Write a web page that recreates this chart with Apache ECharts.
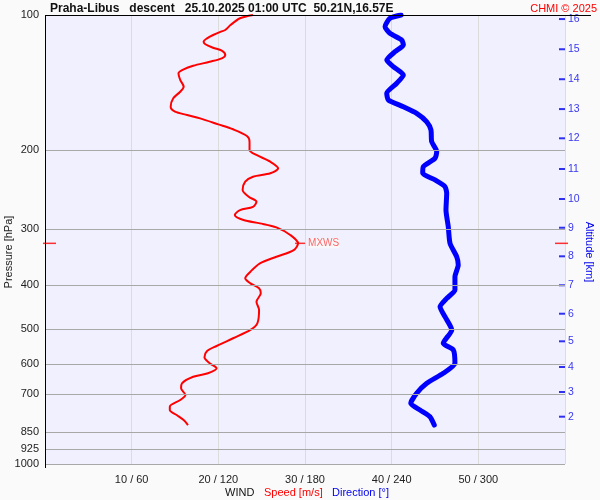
<!DOCTYPE html>
<html>
<head>
<meta charset="utf-8">
<script src="https://cdn.jsdelivr.net/npm/echarts@6/dist/echarts.min.js"></script>
<style>
  html, body { margin: 0; background: #fafafa; }
  #chart { width: 600px; height: 500px; }
</style>
</head>
<body>
<div id="chart"></div>
<script>
// pressure levels [hPa] shown on the left axis
const pressureTicks = [100, 200, 300, 400, 500, 600, 700, 850, 925, 1000];

// wind speed profile: pressure [hPa] / speed [m/s]
const speedP = [100, 101.7, 105.3, 108.0, 108.9, 110.8, 112.7, 114.7, 116.2, 118.3, 120.1, 122.8, 124.9, 127.1, 129.7,
  132.1, 134.8, 139.5, 144.4, 148.2, 153.3, 160.1, 164.2, 167.0, 169.9, 175.2, 179.7, 186.0, 191.5, 199.8,
  205.0, 212.2, 219.5, 225.2, 229.2, 235.1, 245.4, 254.0, 260.6, 267.4, 271.9, 278.9, 286.2, 291.1, 297.1,
  309.0, 322.5, 333.8, 345.4, 357.3, 373.0, 385.9, 395.9, 406.2, 416.8, 435.1, 453.9, 486.0, 502.9, 524.8,
  546.0, 560.2, 578.6, 596.6, 612.2, 628.1, 639.2, 661.2, 678.3, 702.0, 720.3, 745.4, 758.1, 777.9, 798.1, 818.9];
const speedV = [24.0, 22.5, 21.4, 20.8, 20.3, 19.4, 18.7, 18.3, 18.5, 19.4, 20.4, 20.8, 20.4, 19.0, 17.1,
  16.0, 15.4, 15.6, 16.0, 15.6, 14.8, 14.5, 15.0, 16.4, 17.9, 20.0, 21.7, 23.3, 23.6, 23.6,
  24.4, 26.0, 26.9, 26.0, 24.0, 23.1, 22.8, 23.5, 24.4, 24.0, 22.5, 21.9, 22.9, 24.8, 26.7,
  28.3, 29.2, 28.7, 26.7, 24.8, 23.7, 23.1, 23.7, 24.7, 24.9, 24.4, 24.7, 24.5, 23.7, 21.7,
  19.8, 18.7, 18.4, 19.0, 19.8, 18.8, 17.1, 15.8, 15.7, 16.2, 15.6, 14.4, 14.4, 15.2, 16.0, 16.5];

// wind direction profile: pressure [hPa] / direction [deg]
const dirP = [100, 101.7, 106.2, 109.8, 113.7, 116.6, 120.7, 126.0, 130.3, 136.0, 141.9, 149.4, 154.6, 160.1, 165.6,
  172.9, 180.3, 191.5, 201.5, 208.5, 217.7, 225.2, 233.0, 241.2, 249.6, 271.9, 296.2, 322.5, 345.4, 360.5,
  382.7, 409.7, 427.6, 446.3, 469.9, 502.9, 538.4, 557.3, 596.6, 628.1, 661.2, 695.9, 732.5, 758.1, 784.6, 818.9];
const dirV = [246.5, 238.8, 235.4, 238.8, 247.0, 248.1, 242.3, 236.6, 241.1, 248.1, 243.5, 236.6, 237.7, 248.1, 257.3,
  264.3, 267.2, 267.7, 271.2, 270.0, 261.9, 261.5, 270.0, 276.9, 278.1, 277.6, 279.2, 280.4, 285.0, 286.1,
  283.8, 283.8, 278.1, 273.5, 276.9, 281.6, 275.7, 282.7, 283.8, 275.7, 264.3, 257.3, 253.2, 259.6, 266.5, 269.5];

// altitude scale on the right: km and the pressure at that height
const altKm = [2, 3, 4, 5, 6, 7, 8, 9, 10, 11, 12, 13, 14, 15, 16];
const altP = [784.6, 691.3, 608.1, 533.0, 462.7, 399.9, 344.7, 297.7, 256.9, 220.3, 188.2, 162.0, 139.0, 119.2, 102.1];

// max wind level
const mxwsP = 322.5;
const mxwsV = 29.2;

const font = 'Arial, "Liberation Sans", sans-serif';
const chart = echarts.init(document.getElementById('chart'));

chart.setOption({
  backgroundColor: '#fafafa',
  animation: false,
  textStyle: { fontFamily: font },
  grid: { left: 45, right: 35, top: 15, bottom: 36, show: true, backgroundColor: '#f0f0ff', borderWidth: 0 },
  xAxis: [
    {
      type: 'value', min: 0, max: 60, interval: 10,
      axisLine: { show: false }, axisTick: { show: false },
      splitLine: { lineStyle: { color: '#dcdcdc' } },
      axisLabel: {
        fontSize: 11, color: '#222', margin: 10,
        formatter: v => (v === 0 || v === 60) ? '' : v + ' / ' + v * 6
      }
    },
    { type: 'value', min: 0, max: 360, show: false }
  ],
  yAxis: {
    type: 'log', logBase: 10, min: 100, max: 1000, inverse: true,
    axisLine: { show: false }, axisTick: { show: false }, splitLine: { show: false },
    axisLabel: { fontSize: 11, color: '#222', margin: 6, customValues: pressureTicks, formatter: v => String(Math.round(v)) }
  },
  series: [
    {
      type: 'line', data: [], z: 1, silent: true,
      markLine: {
        silent: true, symbol: 'none', label: { show: false },
        lineStyle: { color: '#a8a8a8', type: 'solid', width: 1 },
        data: pressureTicks.slice(1).map(p => ({ yAxis: p }))
      }
    },
    {
      name: 'Speed', type: 'line', z: 3,
      data: speedP.map((p, i) => [speedV[i], p]),
      symbol: 'none', smooth: 0.3,
      lineStyle: { color: '#ff0000', width: 2 }
    },
    {
      name: 'Direction', type: 'line', xAxisIndex: 1, z: 3,
      data: dirP.map((p, i) => [dirV[i], p]),
      symbol: 'none', smooth: 0.2,
      lineStyle: { color: '#0000ff', width: 5, cap: 'round', join: 'round' }
    },
    {
      type: 'scatter', z: 4, silent: true,
      data: altP.map((p, i) => [60, p, altKm[i]]),
      symbol: 'rect', symbolSize: [6, 2], symbolOffset: [-3, 0],
      itemStyle: { color: '#0000ee' },
      label: { show: true, position: 'right', distance: 3, fontSize: 10.5, color: '#0000ee', formatter: d => d.value[2] }
    },
    {
      type: 'scatter', z: 4, silent: true,
      data: [[mxwsV, mxwsP]],
      symbol: 'rect', symbolSize: [10, 1.5], symbolOffset: [2, 0],
      itemStyle: { color: '#ff0000' },
      label: { show: true, position: 'right', distance: 3, fontSize: 10, color: '#ff4040', backgroundColor: '#fafafa', formatter: 'MXWS' }
    },
    {
      type: 'scatter', z: 4, silent: true,
      data: [[0, mxwsP]],
      symbol: 'rect', symbolSize: [13, 1.5], symbolOffset: [4.5, 0],
      itemStyle: { color: '#ff0000' }
    },
    {
      type: 'scatter', z: 4, silent: true,
      data: [[60, mxwsP]],
      symbol: 'rect', symbolSize: [13, 1.5], symbolOffset: [-3.5, 0],
      itemStyle: { color: '#ff0000' }
    }
  ],
  graphic: [
    { type: 'line', shape: { x1: 45, y1: 15.5, x2: 591, y2: 15.5 }, style: { stroke: '#000', lineWidth: 1 }, z: 10 },
    { type: 'line', shape: { x1: 45.5, y1: 15, x2: 45.5, y2: 468 }, style: { stroke: '#000', lineWidth: 1 }, z: 10 },
    { type: 'text', x: 50, y: 9, style: { text: 'Praha-Libus   descent   25.10.2025 01:00 UTC  50.21N,16.57E', font: 'bold 12px ' + font, fill: '#111', textVerticalAlign: 'middle' } },
    { type: 'text', x: 597, y: 9, style: { text: 'CHMI © 2025', font: '11px ' + font, fill: '#ff0000', textAlign: 'right', textVerticalAlign: 'middle' } },
    { type: 'text', x: 9, y: 252, rotation: Math.PI / 2, style: { text: 'Pressure [hPa]', font: '11px ' + font, fill: '#222', textAlign: 'center', textVerticalAlign: 'middle' } },
    { type: 'text', x: 589, y: 252, rotation: -Math.PI / 2, style: { text: 'Altitude [km]', font: '11px ' + font, fill: '#0000ee', textAlign: 'center', textVerticalAlign: 'middle' } },
    { type: 'text', x: 225, y: 493, style: { text: 'WIND', font: '11px ' + font, fill: '#111', textVerticalAlign: 'middle' } },
    { type: 'text', x: 264, y: 493, style: { text: 'Speed [m/s]', font: '11px ' + font, fill: '#ff0000', textVerticalAlign: 'middle' } },
    { type: 'text', x: 332, y: 493, style: { text: 'Direction [°]', font: '11px ' + font, fill: '#0000ee', textVerticalAlign: 'middle' } }
  ]
});
</script>
</body>
</html>
